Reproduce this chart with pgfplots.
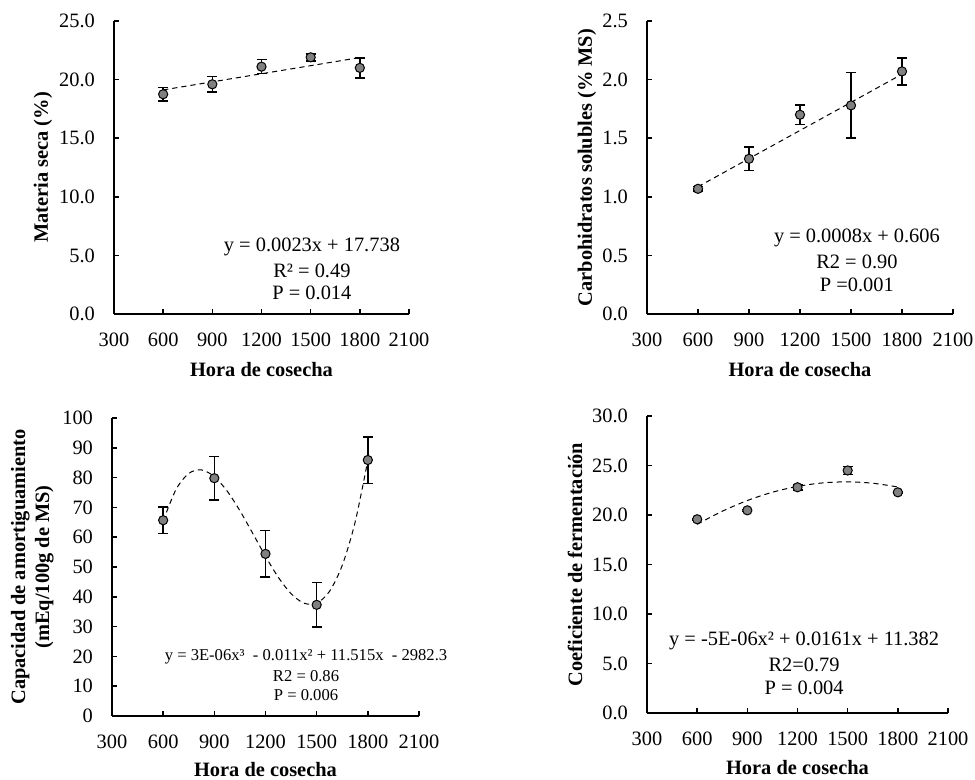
\documentclass[border=0pt]{standalone}
\usepackage{fontspec}
\setmainfont{Liberation Serif}
\usepackage{pgfplots}
\usepackage{pgfplotstable}
\pgfplotsset{compat=1.18}

\pgfplotstableread{
x y e
600 18.75 0.57
900 19.60 0.65
1200 21.10 0.60
1500 21.90 0.30
1800 21.00 0.85
}\msdata
\pgfplotstableread{
x y e
600 1.068 0.02
900 1.324 0.10
1200 1.700 0.085
1500 1.780 0.28
1800 2.070 0.115
}\csdata
\pgfplotstableread{
x y e
600 65.7 4.4
900 79.8 7.3
1200 54.4 7.8
1500 37.3 7.5
1800 85.9 7.8
}\cadata
\pgfplotstableread{
x y e
600 19.57 0.1
900 20.47 0.1
1200 22.80 0.28
1500 24.50 0.42
1800 22.29 0.1
}\cfdata
% trend curves
\pgfplotstableread{
x y
600 65.46
675 75.97
750 81.40
825 82.58
900 80.34
975 75.50
1050 68.88
1125 61.30
1200 53.59
1275 46.56
1350 41.05
1425 37.87
1500 37.84
1575 41.80
1650 50.56
1725 64.94
1800 85.76
}\catrend
\pgfplotstableread{
x y
600 19.06
750 20.38
900 21.46
1050 22.30
1200 22.89
1350 23.24
1500 23.35
1650 23.21
1800 22.83
}\cftrend

\tikzset{
  eq/.style={font=\fontsize{10.2}{12}\selectfont, anchor=center},
  eqs/.style={font=\fontsize{8.3}{10}\selectfont, anchor=center},
}
\pgfplotsset{
  panel/.style={
    scale only axis,
    axis lines*=left,
    xmin=300, xmax=2100, xtick={300,600,...,2100},
    tick align=inside,
    major tick length=2.5pt,
    axis line style={line width=0.75pt, black},
    major tick style={line width=0.75pt, black},
    /pgf/number format/assume math mode=true,
    /pgf/number format/1000 sep={},
    tick label style={font=\fontsize{10.2}{12}\selectfont},
    xticklabel shift=6pt,
    yticklabel shift=6pt,
    label style={font=\bfseries\fontsize{10.2}{12}\selectfont},
    xlabel={Hora de cosecha},
    xlabel style={at={(axis description cs:0.5,-0.19)}, anchor=center},
    clip=false,
  },
  onedec/.style={yticklabel style={/pgf/number format/.cd, fixed, fixed zerofill, precision=1}},
  pts/.style={only marks, mark=*, mark size=2.3pt,
    mark options={fill=gray, draw=black, line width=0.5pt},
    error bars/.cd, y dir=both, y explicit,
    error bar style={line width=0.75pt, black},
    error mark options={rotate=90, mark size=2.5pt, line width=0.75pt, black}},
  trend/.style={black, line width=0.5pt, dash pattern=on 2.6pt off 2pt},
}

\begin{document}
\begin{tikzpicture}
\useasboundingbox (0pt,0pt) rectangle (487.5pt,-390pt);

% Panel 1
\begin{axis}[panel, onedec, at={(57pt,-157pt)}, anchor=south west,
  width=147.5pt, height=146.5pt, ymin=0, ymax=25, ytick={0,5,...,25},
  ylabel={Materia seca (\%)},
  ylabel style={at={(axis description cs:-0.241,0.5)}, anchor=center}]
\addplot[pts] table[x=x, y=y, y error=e] {\msdata};
\addplot[trend] coordinates {(600,19.118) (1800,21.878)};
\node[eq] at (axis description cs:0.671,0.229) {y = 0.0023x + 17.738};
\node[eq] at (axis description cs:0.671,0.147) {R² = 0.49};
\node[eq] at (axis description cs:0.671,0.072) {P = 0.014};
\end{axis}

% Panel 2
\begin{axis}[panel, onedec, at={(323.5pt,-157pt)}, anchor=south west,
  width=153pt, height=146.5pt, ymin=0, ymax=2.5, ytick={0,0.5,...,2.5},
  ylabel={Carbohidratos solubles (\% MS)},
  ylabel style={at={(axis description cs:-0.196,0.5)}, anchor=center}]
\addplot[pts] table[x=x, y=y, y error=e] {\csdata};
\addplot[trend] coordinates {(600,1.086) (1800,2.046)};
\node[eq] at (axis description cs:0.686,0.259) {y = 0.0008x + 0.606};
\node[eq] at (axis description cs:0.686,0.177) {R2 = 0.90};
\node[eq] at (axis description cs:0.686,0.099) {P =0.001};
\end{axis}

% Panel 3
\begin{axis}[panel, at={(56pt,-358pt)}, anchor=south west,
  width=153.5pt, height=149pt, ymin=0, ymax=100, ytick={0,10,...,100},
  xlabel style={at={(axis description cs:0.5,-0.181)}},
  ylabel={Capacidad de amortiguamiento\\(mEq/100g de MS)},
  ylabel style={at={(axis description cs:-0.26,0.5)}, anchor=center, align=center}]
\addplot[pts] table[x=x, y=y, y error=e] {\cadata};
\addplot[trend, smooth] table[x=x, y=y] {\catrend};
\node[eqs] at (axis description cs:0.632,0.198) {y = 3E-06x³~ - 0.011x² + 11.515x~ - 2982.3};
\node[eqs] at (axis description cs:0.632,0.134) {R2 = 0.86};
\node[eqs] at (axis description cs:0.632,0.070) {P = 0.006};
\end{axis}

% Panel 4
\begin{axis}[panel, onedec, at={(323.5pt,-356.5pt)}, anchor=south west,
  width=150.5pt, height=148.5pt, ymin=0, ymax=30, ytick={0,5,...,30},
  xlabel style={at={(axis description cs:0.5,-0.185)}},
  ylabel={Coeficiente de fermentación},
  ylabel style={at={(axis description cs:-0.239,0.5)}, anchor=center}]
\addplot[pts] table[x=x, y=y, y error=e] {\cfdata};
\addplot[trend, smooth] table[x=x, y=y] {\cftrend};
\node[eq] at (axis description cs:0.522,0.242) {y = -5E-06x² + 0.0161x + 11.382};
\node[eq] at (axis description cs:0.522,0.162) {R2=0.79};
\node[eq] at (axis description cs:0.522,0.084) {P = 0.004};
\end{axis}
\end{tikzpicture}
\end{document}
